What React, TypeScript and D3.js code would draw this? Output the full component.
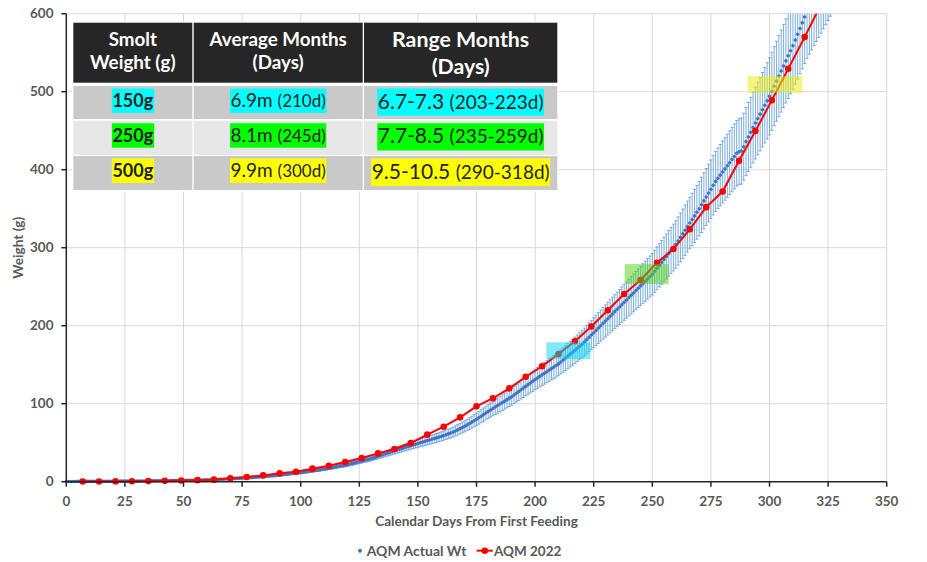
import React, { useEffect, useRef } from "react";
import * as d3 from "d3";

// ---------- DATA ----------
const redDays = [7, 14, 21, 28, 35, 42, 49, 56, 63, 70, 77, 84, 91, 98, 105, 112, 119, 126, 133, 140, 147, 154, 161, 168, 175, 182, 189, 196, 203, 210, 217, 224, 231, 238, 245, 252, 259, 266, 273, 280, 287, 294, 301, 308, 315, 322];
const redWeights = [0.2, 0.3, 0.4, 0.6, 0.8, 1.1, 1.5, 2.0, 2.6, 4.3, 6.0, 8.1, 10.7, 12.8, 16.7, 20.5, 25.2, 30.3, 36.3, 41.9, 49.6, 60.3, 70.5, 82.5, 96.6, 107, 119.7, 134.6, 148, 163.7, 180, 199, 219.7, 240.6, 258.6, 280.8, 298.3, 323.6, 352, 372, 411.5, 449.6, 489, 529.5, 570, 612];

// AQM Actual Wt: one value per day, starting at day 0
const blueFirstDay = 0;
const blueWeights = [
  0.3, 0.3, 0.3, 0.3, 0.3, 0.4, 0.4, 0.4, 0.4, 0.4,
  0.4, 0.4, 0.4, 0.5, 0.5, 0.5, 0.5, 0.5, 0.6, 0.6,
  0.6, 0.6, 0.6, 0.7, 0.7, 0.7, 0.7, 0.7, 0.8, 0.8,
  0.8, 0.8, 0.9, 0.9, 0.9, 1.0, 1.0, 1.0, 1.0, 1.1,
  1.1, 1.2, 1.2, 1.3, 1.3, 1.4, 1.4, 1.5, 1.5, 1.6,
  1.6, 1.7, 1.8, 1.8, 1.9, 2.0, 2.1, 2.2, 2.2, 2.3,
  2.4, 2.5, 2.6, 2.8, 2.9, 3.0, 3.1, 3.2, 3.4, 3.5,
  3.6, 3.8, 4.0, 4.1, 4.3, 4.5, 4.7, 4.9, 5.0, 5.2,
  5.4, 5.7, 5.9, 6.2, 6.4, 6.7, 7.0, 7.2, 7.5, 7.7,
  8.0, 8.4, 8.7, 9.1, 9.4, 9.8, 10.2, 10.5, 10.9, 11.2,
  11.6, 12.0, 12.5, 12.9, 13.4, 13.8, 14.2, 14.7, 15.1, 15.6,
  16.0, 16.6, 17.2, 17.7, 18.3, 18.9, 19.5, 20.1, 20.6, 21.2,
  21.8, 22.6, 23.3, 24.1, 24.9, 25.7, 26.4, 27.2, 28.0, 28.7,
  29.5, 30.5, 31.5, 32.5, 33.5, 34.5, 35.5, 36.5, 37.5, 38.5,
  39.5, 40.5, 41.4, 42.4, 43.3, 44.3, 45.2, 46.2, 47.1, 48.1,
  49.0, 49.9, 50.8, 51.7, 52.6, 53.5, 54.4, 55.3, 56.2, 57.1,
  58.0, 59.1, 60.2, 61.3, 62.4, 63.5, 65.0, 66.5, 68.0, 69.5,
  71.0, 72.8, 74.6, 76.4, 78.2, 80.0, 82.0, 84.0, 86.0, 88.0,
  90.0, 91.9, 93.8, 95.7, 97.6, 99.5, 101.4, 103.3, 105.2, 107.1,
  109.0, 111.2, 113.4, 115.6, 117.8, 120.0, 122.2, 124.4, 126.6, 128.8,
  131, 133, 135, 137, 139, 141, 143, 145, 147, 149,
  151, 153.5, 156, 158.5, 161, 163.5, 166, 168.5, 171, 173.5,
  176, 179, 182, 185, 188, 191, 194, 197, 200, 203,
  206, 209, 212, 215, 218, 221, 224, 227, 230, 233,
  236, 239, 242, 245, 248, 251, 254, 257, 260, 263,
  266, 269.8, 273.6, 277.4, 281.2, 285, 288.8, 292.6, 296.4, 300.2,
  304, 308.6, 313.2, 317.8, 322.4, 327, 331.6, 336.2, 340.8, 345.4,
  350, 355, 360, 365, 370, 375, 380, 385, 389, 393,
  397, 401, 405, 409, 413, 417, 421, 423, 424, 429.5,
  436, 442, 448, 454, 459.8, 465.5, 471.2, 476.9, 482.6, 488.3,
  494, 500.5, 507, 513.5, 520, 526.5, 533, 539.5, 546, 552.5,
  559, 566.3, 573.7, 581, 588.3, 595.7, 603, 609, 615, 621,
  627, 633, 639, 645, 651, 657, 663, 669,
];
const errorPercent = 10; // percentage error bars on the actual weights

const xTickValues = [0, 25, 50, 75, 100, 125, 150, 175, 200, 225, 250, 275, 300, 325, 350];
const yTickValues = [0, 100, 200, 300, 400, 500, 600];

// smolt windows (highlight boxes on the plot)
const windowStartDay = [204.8, 238.2, 290.7];
const windowEndDay = [223.6, 257, 314];
const windowLowWt = [157.3, 253.5, 498.7];
const windowHighWt = [178.7, 279, 520];

// table
const tableHeader1 = ["Smolt", "Average Months", "Range Months"];
const tableHeader2 = ["Weight (g)", "(Days)", "(Days)"];
const smoltWeights = ["150g", "250g", "500g"];
const avgMonths = ["6.9m", "8.1m", "9.9m"];
const avgDays = ["(210d)", "(245d)", "(300d)"];
const rangeMonths = ["6.7-7.3", "7.7-8.5", "9.5-10.5"];
const rangeDays = ["(203-223d)", "(235-259d)", "(290-318d)"];

const seriesNames = ["AQM Actual Wt", "AQM 2022"];

// ---------- STYLE ----------
const W = 927;
const H = 562;
const FONT = "Lato, 'Open Sans', sans-serif";
const AXIS_TEXT = "#595959";
const BLUE = "#4472C4";
const ERR = "#5B9BD5";
const RED = "#FF0000";
const highlightColors = ["#00FFFF", "#00FF00", "#FFFF00"];
const windowFills = ["rgba(0,215,245,0.5)", "rgba(80,210,20,0.5)", "rgba(235,235,20,0.55)"];

export default function App() {
  const ref = useRef<SVGSVGElement | null>(null);

  useEffect(() => {
    document.body.style.margin = "0";
    const svg = d3.select(ref.current);
    svg.selectAll("*").remove();

    const left = 66.3, right = 886.7, top = 13.7, bottom = 481.7;
    const x = d3.scaleLinear().domain([0, 350]).range([left, right]);
    const y = d3.scaleLinear().domain([0, 600]).range([bottom, top]);

    svg.append("rect").attr("width", W).attr("height", H).attr("fill", "#fff");

    const defs = svg.append("defs");
    defs.append("clipPath").attr("id", "plotclip")
      .append("rect").attr("x", 0).attr("y", top).attr("width", W).attr("height", H - top);

    // gridlines
    const grid = svg.append("g");
    grid.selectAll("line.h").data(yTickValues.filter((v) => v > 0)).join("line")
      .attr("x1", left).attr("x2", right).attr("y1", (d) => y(d)).attr("y2", (d) => y(d))
      .attr("stroke", "#D9D9D9").attr("stroke-width", 1);
    grid.selectAll("line.v").data(xTickValues.filter((v) => v > 0)).join("line")
      .attr("x1", (d) => x(d)).attr("x2", (d) => x(d)).attr("y1", top).attr("y2", bottom)
      .attr("stroke", "#D9D9D9").attr("stroke-width", 1);

    const plot = svg.append("g").attr("clip-path", "url(#plotclip)");

    const blue = blueWeights.map((w, i) => ({ d: blueFirstDay + i, w }));
    // error bars
    const eb = plot.append("g").attr("stroke", ERR).attr("stroke-width", 0.8);
    blue.forEach((p) => {
      const e = (p.w * errorPercent) / 100;
      const xx = x(p.d);
      eb.append("line").attr("x1", xx).attr("x2", xx).attr("y1", y(p.w - e)).attr("y2", y(p.w + e));
      eb.append("line").attr("x1", xx - 1.6).attr("x2", xx + 1.6).attr("y1", y(p.w - e)).attr("y2", y(p.w - e));
      eb.append("line").attr("x1", xx - 1.6).attr("x2", xx + 1.6).attr("y1", y(p.w + e)).attr("y2", y(p.w + e));
    });
    plot.append("g").selectAll("circle").data(blue).join("circle")
      .attr("cx", (p) => x(p.d)).attr("cy", (p) => y(p.w)).attr("r", 1.8).attr("fill", BLUE);

    const red = redDays.map((d, i) => ({ d, w: redWeights[i] }));
    const line = d3.line<{ d: number; w: number }>().x((p) => x(p.d)).y((p) => y(p.w));
    plot.append("path").attr("d", line(red)).attr("fill", "none").attr("stroke", RED).attr("stroke-width", 2);
    plot.append("g").selectAll("circle").data(red).join("circle")
      .attr("cx", (p) => x(p.d)).attr("cy", (p) => y(p.w)).attr("r", 3.3).attr("fill", RED);

    // window boxes
    plot.append("g").selectAll("rect").data(windowStartDay).join("rect")
      .attr("x", (d) => x(d)).attr("width", (d, i) => x(windowEndDay[i]) - x(d))
      .attr("y", (d, i) => y(windowHighWt[i])).attr("height", (d, i) => y(windowLowWt[i]) - y(windowHighWt[i]))
      .attr("fill", (d, i) => windowFills[i]);

    // axes
    const ax = svg.append("g").attr("stroke", "#262626").attr("stroke-width", 1.5);
    ax.append("line").attr("x1", left).attr("x2", left).attr("y1", top).attr("y2", bottom + 0.75);
    ax.append("line").attr("x1", left - 0.75).attr("x2", right).attr("y1", bottom).attr("y2", bottom);
    ax.selectAll("line.yt").data(yTickValues).join("line")
      .attr("x1", left - 5).attr("x2", left).attr("y1", (d) => y(d)).attr("y2", (d) => y(d));
    ax.selectAll("line.xt").data(xTickValues).join("line")
      .attr("x1", (d) => x(d)).attr("x2", (d) => x(d)).attr("y1", bottom).attr("y2", bottom + 5);

    const labels = svg.append("g").attr("font-family", FONT).attr("font-weight", 700).attr("fill", AXIS_TEXT).attr("font-size", 13.5);
    labels.selectAll("text.y").data(yTickValues).join("text")
      .attr("x", 53.5).attr("y", (d) => y(d) + 4.7).attr("text-anchor", "end").text((d) => String(d));
    labels.selectAll("text.x").data(xTickValues).join("text")
      .attr("x", (d) => x(d)).attr("y", bottom + 24.5).attr("text-anchor", "middle").text((d) => String(d));

    svg.append("text").attr("x", (left + right) / 2).attr("y", 526).attr("text-anchor", "middle")
      .attr("font-family", FONT).attr("font-weight", 700).attr("font-size", 13.6).attr("fill", AXIS_TEXT)
      .text("Calendar Days From First Feeding");
    svg.append("text").attr("transform", `translate(22.5,${(top + bottom) / 2}) rotate(-90)`).attr("text-anchor", "middle")
      .attr("font-family", FONT).attr("font-weight", 700).attr("font-size", 13.6).attr("fill", AXIS_TEXT)
      .text("Weight (g)");

    // legend
    const lg = svg.append("g").attr("font-family", FONT).attr("font-weight", 700).attr("fill", AXIS_TEXT);
    lg.append("circle").attr("cx", 360).attr("cy", 550.7).attr("r", 2).attr("fill", BLUE);
    lg.append("text").attr("x", 366.7).attr("y", 555.5).attr("font-size", 14).text(seriesNames[0]);
    lg.append("line").attr("x1", 476.7).attr("x2", 492.7).attr("y1", 550.7).attr("y2", 550.7).attr("stroke", RED).attr("stroke-width", 2);
    lg.append("circle").attr("cx", 484.7).attr("cy", 550.7).attr("r", 3.3).attr("fill", RED);
    lg.append("text").attr("x", 494).attr("y", 555.5).attr("font-size", 13.5).text(seriesNames[1]);

    // table
    const tb = svg.append("g").attr("font-family", FONT);
    const colX = [[73.3, 192.3], [193.7, 362.7], [364, 557.3]];
    const rowY = [[86, 119], [120.7, 155], [156, 190]];
    const rowFill = ["#C9C9C9", "#E7E7E7", "#C9C9C9"];
    tb.append("rect").attr("x", 72).attr("y", 21.5).attr("width", 486.5).attr("height", 170).attr("fill", "#fff");
    colX.forEach(([c0, c1], ci) => {
      tb.append("rect").attr("x", c0).attr("y", 22.7).attr("width", c1 - c0).attr("height", 60).attr("fill", "#262626");
      const cx = (c0 + c1) / 2;
      const hs = ci === 2 ? 21.3 : 18.8;
      tb.append("text").attr("x", cx).attr("y", ci === 2 ? 47 : 45.5).attr("text-anchor", "middle")
        .attr("fill", "#fff").attr("font-weight", 700).attr("font-size", hs).text(tableHeader1[ci]);
      tb.append("text").attr("x", cx).attr("y", ci === 2 ? 74 : 69).attr("text-anchor", "middle")
        .attr("fill", "#fff").attr("font-weight", 700).attr("font-size", hs).text(tableHeader2[ci]);
      rowY.forEach(([r0, r1], ri) => {
        tb.append("rect").attr("x", c0).attr("y", r0).attr("width", c1 - c0).attr("height", r1 - r0).attr("fill", rowFill[ri]);
      });
    });
    rowY.forEach(([r0], ri) => {
      const cells: { parts: [string, number][]; bold: boolean; h: number }[] = [
        { parts: [[smoltWeights[ri], 18]], bold: true, h: 24.5 },
        { parts: [[avgMonths[ri] + " ", 19], [avgDays[ri], 17]], bold: false, h: 24.5 },
        { parts: [[rangeMonths[ri] + " ", 21], [rangeDays[ri], 19]], bold: false, h: 27.3 },
      ];
      cells.forEach((cell, ci) => {
        const cx = (colX[ci][0] + colX[ci][1]) / 2;
        const g = tb.append("g");
        const t = g.append("text").attr("x", cx).attr("text-anchor", "middle")
          .attr("y", r0 + 2.5 + cell.h / 2 + 6.5)
          .attr("fill", "#1E1E1E").attr("font-weight", cell.bold ? 700 : 400)
          .attr("xml:space", "preserve");
        cell.parts.forEach(([s, fs]) => t.append("tspan").attr("font-size", fs).text(s));
        const bb = (t.node() as SVGTextElement).getBBox();
        g.insert("rect", "text").attr("x", bb.x - 0.5).attr("width", bb.width + 1)
          .attr("y", r0 + 2.5).attr("height", cell.h).attr("fill", highlightColors[ri]);
      });
    });
  }, []);

  return <svg ref={ref} width={W} height={H} style={{ display: "block", position: "absolute", left: 0, top: 0 }} />;
}
